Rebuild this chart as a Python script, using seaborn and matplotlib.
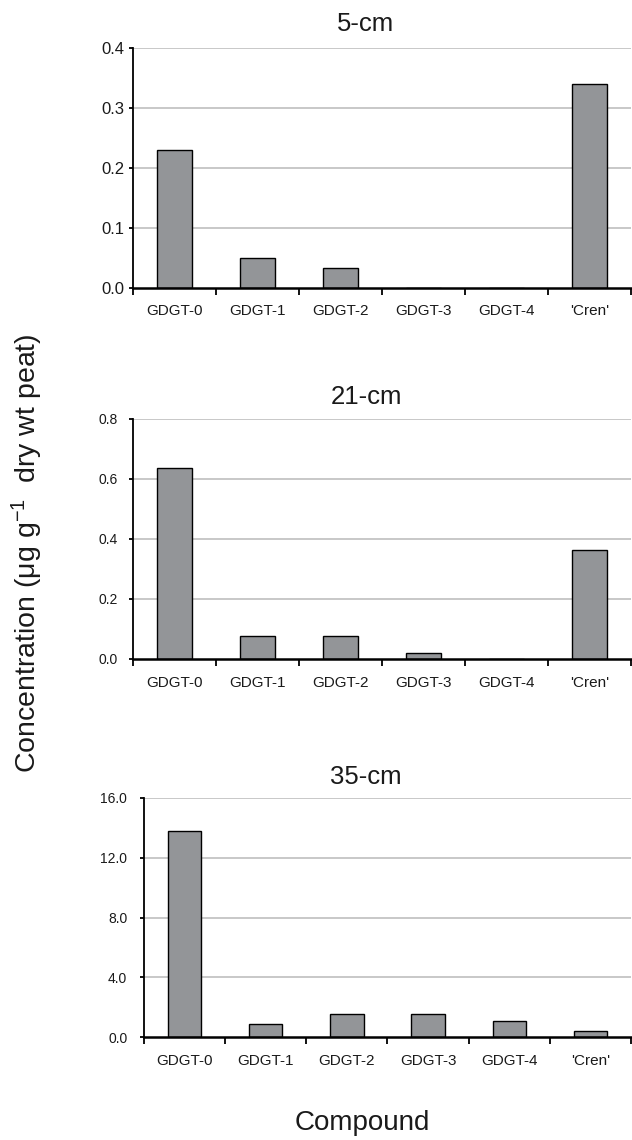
import matplotlib
matplotlib.use("Agg")
import matplotlib.pyplot as plt
import seaborn as sns
import pandas as pd
from matplotlib.ticker import FormatStrFormatter, FixedLocator

sns.set_theme(style="white")
plt.rcParams['font.family'] = ['Liberation Sans', 'DejaVu Sans']
plt.rcParams['mathtext.fontset'] = 'custom'
plt.rcParams['mathtext.rm'] = 'Liberation Sans'
plt.rcParams['mathtext.it'] = 'Liberation Sans:italic'
plt.rcParams['mathtext.bf'] = 'Liberation Sans:bold'

compounds = ["GDGT-0", "GDGT-1", "GDGT-2", "GDGT-3", "GDGT-4", "'Cren'"]
depths = ["5-cm", "21-cm", "35-cm"]
values_5cm = [0.23, 0.05, 0.033, 0.0, 0.0, 0.34]
values_21cm = [0.637, 0.077, 0.077, 0.021, 0.0, 0.362]
values_35cm = [13.75, 0.87, 1.53, 1.53, 1.09, 0.42]
ytick_values = [
    [0.0, 0.1, 0.2, 0.3, 0.4],
    [0.0, 0.2, 0.4, 0.6, 0.8],
    [0.0, 4.0, 8.0, 12.0, 16.0],
]

W, H = 632, 1140
fig = plt.figure(figsize=(W / 100, H / 100), dpi=100)

# pixel boxes: left, top, right, bottom
boxes = [
    (133, 48, 631, 287.5),
    (133, 419, 631, 659),
    (144, 797.7, 631, 1037.3),
]
title_y = [24, 397, 777]
ytick_fs = [12, 10, 10]
ytick_pad = [3, 8, 9]
series = [values_5cm, values_21cm, values_35cm]

bar_color = "#939598"
grid_color = "#c4c4c4"

for i, (vals, box) in enumerate(zip(series, boxes)):
    l, t, r, b = box
    ax = fig.add_axes([l / W, 1 - b / H, (r - l) / W, (b - t) / H])
    df = pd.DataFrame({"compound": compounds, "value": vals})
    sns.barplot(data=df, x="compound", y="value", ax=ax, color=bar_color,
                edgecolor="black", linewidth=1.0, width=0.41, saturation=1,
                zorder=3)
    ax.set_xlim(-0.5, len(compounds) - 0.5)
    yt = ytick_values[i]
    ax.set_ylim(yt[0], yt[-1])
    ax.set_yticks(yt)
    ax.yaxis.set_major_formatter(FormatStrFormatter('%.1f'))
    ax.set_xlabel("")
    ax.set_ylabel("")
    for y in yt[1:]:
        ax.axhline(y, color=grid_color, lw=1.3, zorder=1)
    for s in ["top", "right"]:
        ax.spines[s].set_visible(False)
    ax.spines["left"].set_color("black")
    ax.spines["left"].set_linewidth(1.3)
    ax.spines["bottom"].set_color("black")
    ax.spines["bottom"].set_linewidth(1.8)
    ax.spines["bottom"].set_zorder(4)
    ax.xaxis.set_minor_locator(FixedLocator([k - 0.5 for k in range(len(compounds) + 1)]))
    ax.tick_params(axis="x", which="major", length=0, pad=12, labelsize=11,
                   labelcolor="#1a1a1a")
    ax.tick_params(axis="x", which="minor", length=5, width=1.3, color="black",
                   direction="out", bottom=True)
    ax.tick_params(axis="y", which="major", length=3, width=1.3, color="black",
                   direction="out", left=True, pad=ytick_pad[i],
                   labelsize=ytick_fs[i], labelcolor="#1a1a1a")
    fig.text(366 / W, 1 - title_y[i] / H, depths[i], ha="center", va="center",
             fontsize=18.5, color="#1a1a1a")

fig.text(27 / W, 1 - 553 / H, r"Concentration (μg g$^{-1}$  dry wt peat)",
         rotation=90, ha="center", va="center", fontsize=20.5, color="#1a1a1a")
fig.text(362 / W, 1 - 1123 / H, "Compound", ha="center", va="center",
         fontsize=20, color="#1a1a1a")

fig.savefig("out.png", dpi=100)
